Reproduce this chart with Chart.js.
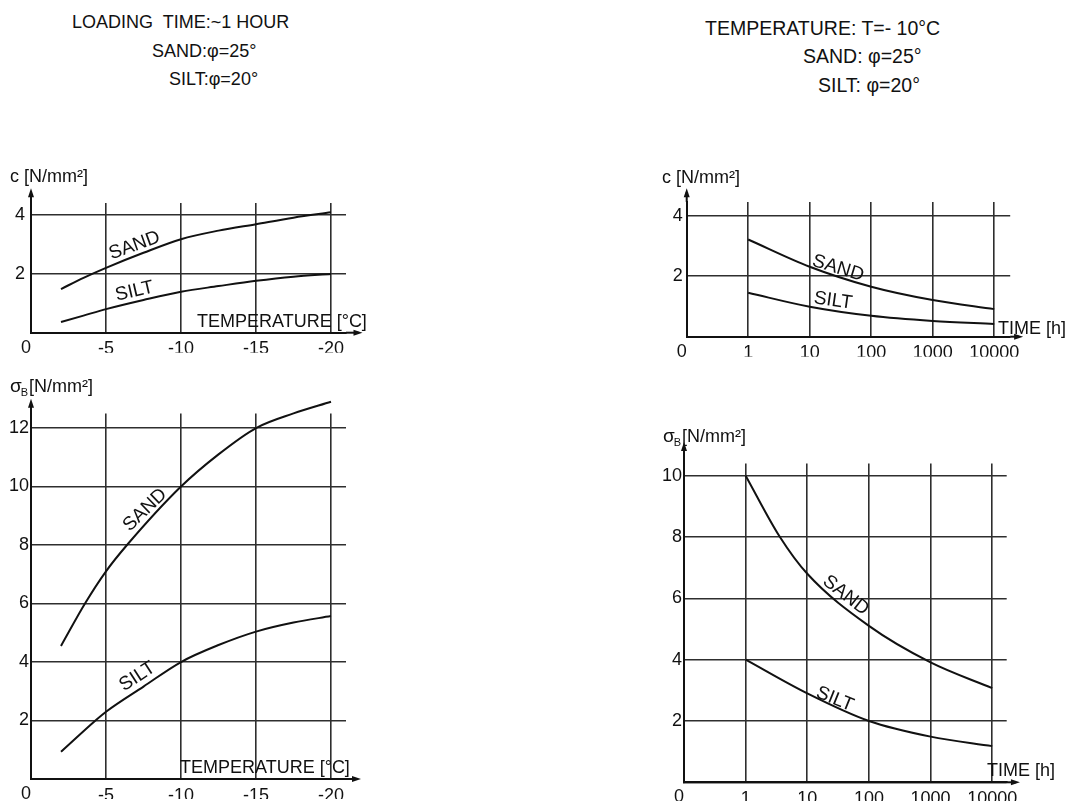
<!DOCTYPE html>
<html><head><meta charset="utf-8">
<script src="https://cdn.jsdelivr.net/npm/chart.js@4.4.1/dist/chart.umd.min.js"></script>
<style>
html,body{margin:0;padding:0;background:#fff;}
#wrap{position:relative;width:1069px;height:801px;overflow:hidden;font-family:"Liberation Sans",Arial,sans-serif;color:#111;background:#fff;}
canvas{position:absolute;left:0;top:0;pointer-events:none;}
.t{position:absolute;white-space:pre;line-height:1;}
.l{font-size:18px;}
.r{font-size:19.5px;}
</style></head><body>
<div id="wrap">
  <div class="t l" style="left:72px;top:13px">LOADING  TIME:~1 HOUR</div>
  <div class="t l" style="left:152px;top:42px">SAND:φ=25°</div>
  <div class="t l" style="left:169px;top:70px">SILT:φ=20°</div>
  <div class="t r" style="left:705px;top:19px">TEMPERATURE: T=- 10°C</div>
  <div class="t r" style="left:803px;top:46.5px">SAND: φ=25°</div>
  <div class="t r" style="left:818px;top:75.5px">SILT: φ=20°</div>
  <canvas id="c1" width="1069" height="801"></canvas>
  <canvas id="c2" width="1069" height="801"></canvas>
  <canvas id="c3" width="1069" height="801"></canvas>
  <canvas id="c4" width="1069" height="801"></canvas>
</div>
<script>
// ---------- data ----------
const T_AXIS_TICKS = [0, -5, -10, -15, -20];
const TIME_AXIS_TICKS = [0.1, 1, 10, 100, 1000, 10000];
const TIME_AXIS_LABELS = ['0', '1', '10', '100', '1000', '10000'];
const C_TICKS = [0, 2, 4];
const SIGMA_T_TICKS = [0, 2, 4, 6, 8, 10, 12];
const SIGMA_TIME_TICKS = [0, 2, 4, 6, 8, 10];

// c [N/mm2] vs temperature (loading time ~1 h)
const cT_temp = [-2, -3.5, -5, -7.5, -10, -12.5, -15, -17.5, -20];
const cT_sand = [1.48, 1.86, 2.2, 2.71, 3.17, 3.46, 3.68, 3.9, 4.08];
const cT_silt = [0.36, 0.58, 0.8, 1.11, 1.39, 1.58, 1.76, 1.9, 1.99];

// sigma_B [N/mm2] vs temperature
const sT_temp_sand = [-2, -3.6, -5, -6.4, -10, -12.5, -15, -17.5, -20];
const sT_sand = [4.55, 6.0, 7.1, 8.0, 10.0, 11.1, 12.0, 12.5, 12.9];
const sT_temp_silt = [-2, -4.3, -5, -7.5, -10, -12.5, -15, -17.5, -20];
const sT_silt = [0.93, 2.0, 2.3, 3.16, 4.0, 4.58, 5.04, 5.35, 5.57];

// c [N/mm2] vs time (T = -10 C)
const cTime_t = [1, 10, 100, 1000, 10000];
const cTime_sand = [3.21, 2.31, 1.65, 1.21, 0.91];
const cTime_silt = [1.45, 0.99, 0.69, 0.52, 0.42];

// sigma_B [N/mm2] vs time
const sTime_t_sand = [1, 3.6, 10, 100, 1000, 10000];
const sTime_sand = [10.0, 8.0, 6.8, 5.1, 3.91, 3.07];
const sTime_t_silt = [1, 10, 100, 1000, 10000];
const sTime_silt = [4.0, 2.9, 2.0, 1.49, 1.18];

// ---------- styling / layout ----------
const W = 1069, H = 801, YW = 30, XH = 20;
const INK = '#111';
const FAM = "'Liberation Sans', Arial, sans-serif";
Chart.defaults.font.family = FAM;

function pts(xs, ys) { return xs.map((v, i) => ({ x: v, y: ys[i] })); }

function extrasPlugin(o) {
  return {
    id: 'extras_' + o.id,
    afterDraw(chart) {
      const { ctx, chartArea: a, scales: { x, y } } = chart;
      ctx.save();
      ctx.strokeStyle = INK; ctx.fillStyle = INK; ctx.lineWidth = 2;
      // axis extensions with arrows
      const tx = x.getPixelForValue(o.xTip), ty = y.getPixelForValue(o.yTip);
      ctx.beginPath(); ctx.moveTo(a.right, a.bottom); ctx.lineTo(tx - 4, a.bottom); ctx.stroke();
      ctx.beginPath(); ctx.moveTo(tx, a.bottom); ctx.lineTo(tx - 9, a.bottom - 3); ctx.lineTo(tx - 9, a.bottom + 3); ctx.closePath(); ctx.fill();
      ctx.beginPath(); ctx.moveTo(a.left, a.top); ctx.lineTo(a.left, ty + 4); ctx.stroke();
      ctx.beginPath(); ctx.moveTo(a.left, ty); ctx.lineTo(a.left - 3, ty + 9); ctx.lineTo(a.left + 3, ty + 9); ctx.closePath(); ctx.fill();
      // origin label
      ctx.font = '18px ' + FAM; ctx.textAlign = 'center'; ctx.textBaseline = 'top';
      ctx.fillText('0', a.left - 5, a.bottom + 6);
      // axis titles
      ctx.textBaseline = 'alphabetic'; ctx.textAlign = 'left';
      ctx.fillText(o.xTitle.text, o.xTitle.x, o.xTitle.y);
      if (o.yTitle.sigma) {
        let px = o.yTitle.x;
        ctx.font = '19px ' + FAM;
        ctx.fillText('σ', px, o.yTitle.y); px += ctx.measureText('σ').width - 1;
        ctx.font = '11px ' + FAM;
        ctx.fillText('B', px, o.yTitle.y + 4); px += ctx.measureText('B').width + 1;
        ctx.font = '18px ' + FAM;
        ctx.fillText('[N/mm²]', px, o.yTitle.y);
      } else {
        ctx.fillText(o.yTitle.text, o.yTitle.x, o.yTitle.y);
      }
      // curve labels
      ctx.font = '19px ' + FAM;
      ctx.textAlign = 'center'; ctx.textBaseline = 'middle';
      o.curveLabels.forEach(l => {
        ctx.save();
        ctx.translate(x.getPixelForValue(l.x), y.getPixelForValue(l.y));
        ctx.rotate(l.angle * Math.PI / 180);
        ctx.fillText(l.text, 0, 0);
        ctx.restore();
      });
      ctx.restore();
    }
  };
}

function build(id, o) {
  const a = o.area;
  return new Chart(document.getElementById(id), {
    type: 'line',
    data: {
      datasets: o.series.map(s => ({
        label: s.label, data: pts(s.x, s.y), borderColor: INK, borderWidth: 2,
        pointRadius: 0, cubicInterpolationMode: 'monotone', fill: false, clip: false
      }))
    },
    options: {
      responsive: false, animation: false, events: [],
      layout: { padding: { left: a.left - YW, top: a.top, right: W - a.right, bottom: H - a.bottom - XH } },
      plugins: { legend: { display: false }, tooltip: { enabled: false } },
      scales: {
        x: {
          type: o.xType, min: o.xMin, max: o.xMax, reverse: !!o.xReverse, position: 'bottom',
          afterFit: s => { s.height = XH; },
          afterBuildTicks: s => { s.ticks = o.xTicks.map(v => ({ value: v })); },
          ticks: {
            autoSkip: false, maxRotation: 0, minRotation: 0, padding: 6, color: INK,
            font: { size: 18, family: FAM },
            callback: (v) => (v === o.xTicks[0] ? '' : o.xLabel(v))
          },
          grid: { color: '#2e2e2e', lineWidth: 1.6, drawTicks: false },
          border: { color: INK, width: 2 }
        },
        y: {
          type: 'linear', min: 0, max: o.yMax, position: 'left',
          afterFit: s => { s.width = YW; },
          afterBuildTicks: s => { s.ticks = o.yTicks.map(v => ({ value: v })); },
          ticks: {
            autoSkip: false, padding: o.yPad, color: INK,
            font: { size: 18, family: FAM },
            callback: (v) => (v === 0 ? '' : String(v))
          },
          grid: { color: '#2e2e2e', lineWidth: 1.6, drawTicks: false },
          border: { color: INK, width: 2 }
        }
      }
    },
    plugins: [extrasPlugin(o)]
  });
}

const tempLabel = v => String(v);
const timeLabel = v => { const i = TIME_AXIS_TICKS.indexOf(v); return i >= 0 ? TIME_AXIS_LABELS[i] : ''; };

build('c1', {
  id: 1, area: { left: 31, right: 346, top: 202.9, bottom: 332.7 },
  xType: 'linear', xMin: -21, xMax: 0, xReverse: true, xTicks: T_AXIS_TICKS, xLabel: tempLabel,
  yMax: 4.4, yTicks: C_TICKS, yPad: 6, xTip: -22.1, yTip: 4.9,
  series: [{ label: 'SAND', x: cT_temp, y: cT_sand }, { label: 'SILT', x: cT_temp, y: cT_silt }],
  xTitle: { text: 'TEMPERATURE [°C]', x: 197, y: 327 },
  yTitle: { text: 'c [N/mm²]', x: 10, y: 182 },
  curveLabels: [{ text: 'SAND', x: -6.9, y: 2.95, angle: -20 }, { text: 'SILT', x: -6.9, y: 1.4, angle: -13 }]
});

build('c2', {
  id: 2, area: { left: 31, right: 346, top: 413.4, bottom: 779 },
  xType: 'linear', xMin: -21, xMax: 0, xReverse: true, xTicks: T_AXIS_TICKS, xLabel: tempLabel,
  yMax: 12.5, yTicks: SIGMA_T_TICKS, yPad: 2, xTip: -22, yTip: 13.0,
  series: [{ label: 'SAND', x: sT_temp_sand, y: sT_sand }, { label: 'SILT', x: sT_temp_silt, y: sT_silt }],
  xTitle: { text: 'TEMPERATURE [°C]', x: 180, y: 773 },
  yTitle: { sigma: true, x: 10, y: 392 },
  curveLabels: [{ text: 'SAND', x: -7.6, y: 9.2, angle: -44 }, { text: 'SILT', x: -7.1, y: 3.5, angle: -33 }]
});

build('c3', {
  id: 3, area: { left: 686.7, right: 1010.2, top: 201.9, bottom: 336.7 },
  xType: 'logarithmic', xMin: 0.1, xMax: 18197, xTicks: TIME_AXIS_TICKS, xLabel: timeLabel,
  yMax: 4.45, yTicks: C_TICKS, yPad: 4, xTip: 29500, yTip: 4.9,
  series: [{ label: 'SAND', x: cTime_t, y: cTime_sand }, { label: 'SILT', x: cTime_t, y: cTime_silt }],
  xTitle: { text: 'TIME [h]', x: 998, y: 334 },
  yTitle: { text: 'c [N/mm²]', x: 662, y: 183 },
  curveLabels: [{ text: 'SAND', x: 29, y: 2.26, angle: 17 }, { text: 'SILT', x: 24, y: 1.19, angle: 8 }]
});

build('c4', {
  id: 4, area: { left: 684, right: 1006.7, top: 463.4, bottom: 782.3 },
  xType: 'logarithmic', xMin: 0.1, xMax: 17179, xTicks: TIME_AXIS_TICKS, xLabel: timeLabel,
  yMax: 10.4, yTicks: SIGMA_TIME_TICKS, yPad: 2, xTip: 28200, yTip: 11.1,
  series: [{ label: 'SAND', x: sTime_t_sand, y: sTime_sand }, { label: 'SILT', x: sTime_t_silt, y: sTime_silt }],
  xTitle: { text: 'TIME [h]', x: 987, y: 776 },
  yTitle: { sigma: true, x: 663, y: 442 },
  curveLabels: [{ text: 'SAND', x: 42, y: 6.1, angle: 38 }, { text: 'SILT', x: 28, y: 2.71, angle: 22 }]
});
</script>
</body></html>
